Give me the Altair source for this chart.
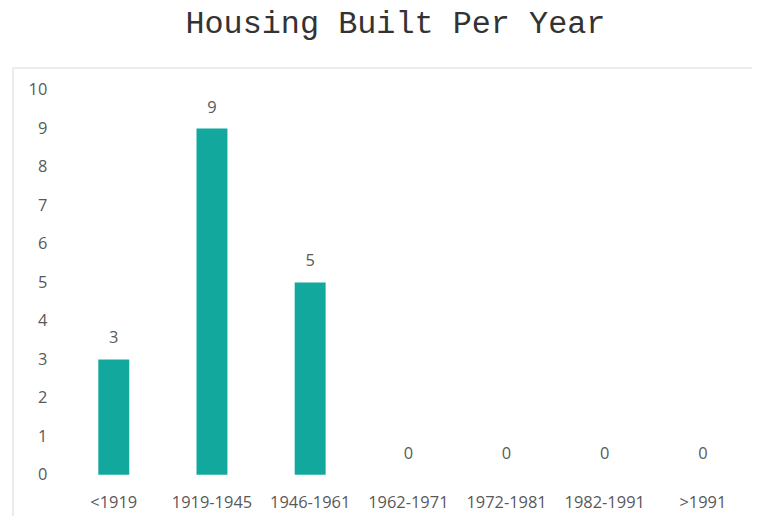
import altair as alt
import pandas as pd

categories = ["<1919", "1919-1945", "1946-1961", "1962-1971", "1972-1981", "1982-1991", ">1991"]
counts = [3, 9, 5, 0, 0, 0, 0]
y_ticks = list(range(0, 11))

df = pd.DataFrame({"period": categories, "count": counts})
frame_df = pd.DataFrame({"k": [0]})

W, H = 691, 387
FONT = "Open Sans"
GRAY = "#595959"

x_enc = alt.X("period:N", sort=categories, title=None,
              scale=alt.Scale(paddingInner=0.685, paddingOuter=0.3425),
              axis=alt.Axis(labelAngle=0, domain=False, ticks=False, grid=False,
                            labelFont=FONT, labelFontSize=16.5, labelColor=GRAY,
                            labelPadding=20, labelOverlap=False))
y_enc = alt.Y("count:Q", title=None,
              scale=alt.Scale(domain=[0, 10], nice=False),
              axis=alt.Axis(values=y_ticks, domain=False, ticks=False, grid=False,
                            labelFont=FONT, labelFontSize=16.5, labelColor=GRAY,
                            labelPadding=18, labelOverlap=False))

base = alt.Chart(df).encode(x=x_enc, y=y_enc)
bars = base.mark_bar(color="#13A89E")
labels = base.mark_text(dy=-13, baseline="bottom", font=FONT, fontSize=16.5,
                        color=GRAY).encode(text=alt.Text("count:Q"))
frame = alt.Chart(frame_df).mark_rect(fill=None, stroke="#D9D9D9", strokeWidth=1).encode(
    x=alt.value(-52), x2=alt.value(716), y=alt.value(-22), y2=alt.value(470)
)

chart = alt.layer(frame, bars, labels).properties(
    width=W, height=H,
    title=alt.TitleParams("Housing Built Per Year", font="Liberation Mono", fontSize=32,
                          fontWeight="normal", color="#333333", anchor="middle",
                          dx=-13, offset=28),
    autosize=alt.AutoSizeParams(type="none"),
    padding={"left": 57, "top": 81, "right": 0, "bottom": 40},
).configure(background="white").configure_view(stroke=None, strokeWidth=0)

chart.save("out.html", embed_options={"renderer": "svg", "actions": False})
